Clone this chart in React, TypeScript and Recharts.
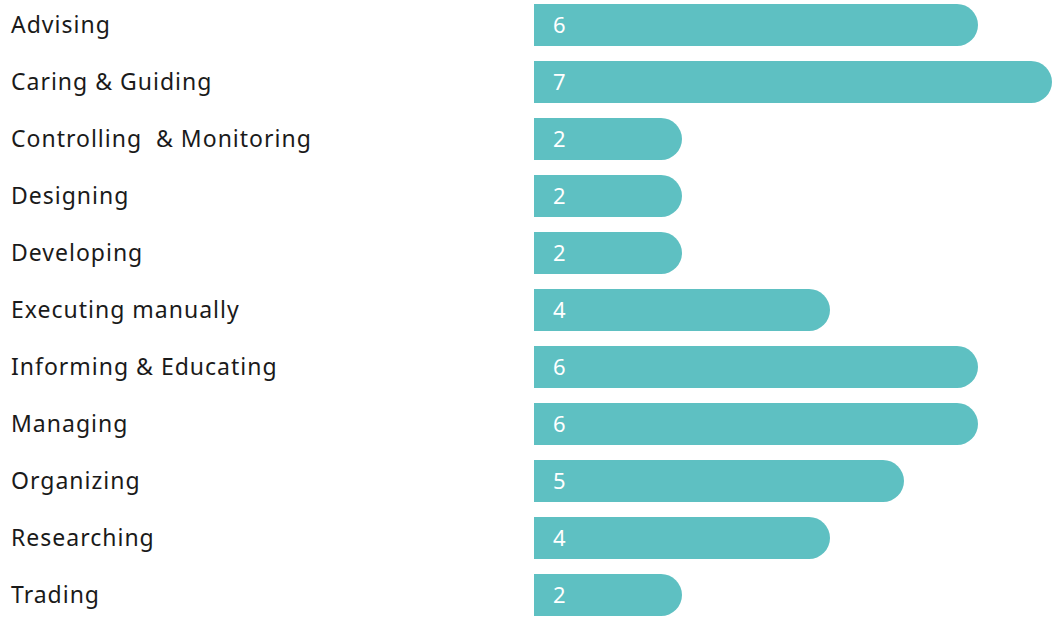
import React from 'react';
import { BarChart, Bar, XAxis, YAxis, LabelList } from 'recharts';

const categories = [
  'Advising',
  'Caring & Guiding',
  'Controlling  & Monitoring',
  'Designing',
  'Developing',
  'Executing manually',
  'Informing & Educating',
  'Managing',
  'Organizing',
  'Researching',
  'Trading',
];
const counts = [6, 7, 2, 2, 2, 4, 6, 6, 5, 4, 2];

const data = categories.map((name, i) => ({ name, count: counts[i] }));

const BAR_COLOR = '#5ec0c2';
const FONT = '"Noto Sans", sans-serif';

const CategoryTick = ({ y, payload }: any) => (
  <text
    x={11}
    y={y}
    dy={8}
    textAnchor="start"
    fill="#1a1a1a"
    fontSize={23}
    fontFamily={FONT}
    letterSpacing={1}
    style={{ whiteSpace: 'pre' }}
  >
    {payload.value}
  </text>
);

const App: React.FC = () => (
  <div style={{ position: 'absolute', left: 0, top: -4.5 }}>
    <BarChart
      width={1055}
      height={627}
      data={data}
      layout="vertical"
      margin={{ top: 0, right: 3, bottom: 0, left: 0 }}
      barCategoryGap={15}
    >
      <XAxis type="number" domain={[0, 7]} hide />
      <YAxis
        type="category"
        dataKey="name"
        width={534}
        axisLine={false}
        tickLine={false}
        tick={<CategoryTick />}
        interval={0}
      />
      <Bar
        dataKey="count"
        fill={BAR_COLOR}
        barSize={42}
        radius={[0, 21, 21, 0]}
        isAnimationActive={false}
      >
        <LabelList
          dataKey="count"
          position="insideLeft"
          offset={19}
          fill="#ffffff"
          fontSize={22}
          fontFamily={FONT}
        />
      </Bar>
    </BarChart>
  </div>
);

export default App;
